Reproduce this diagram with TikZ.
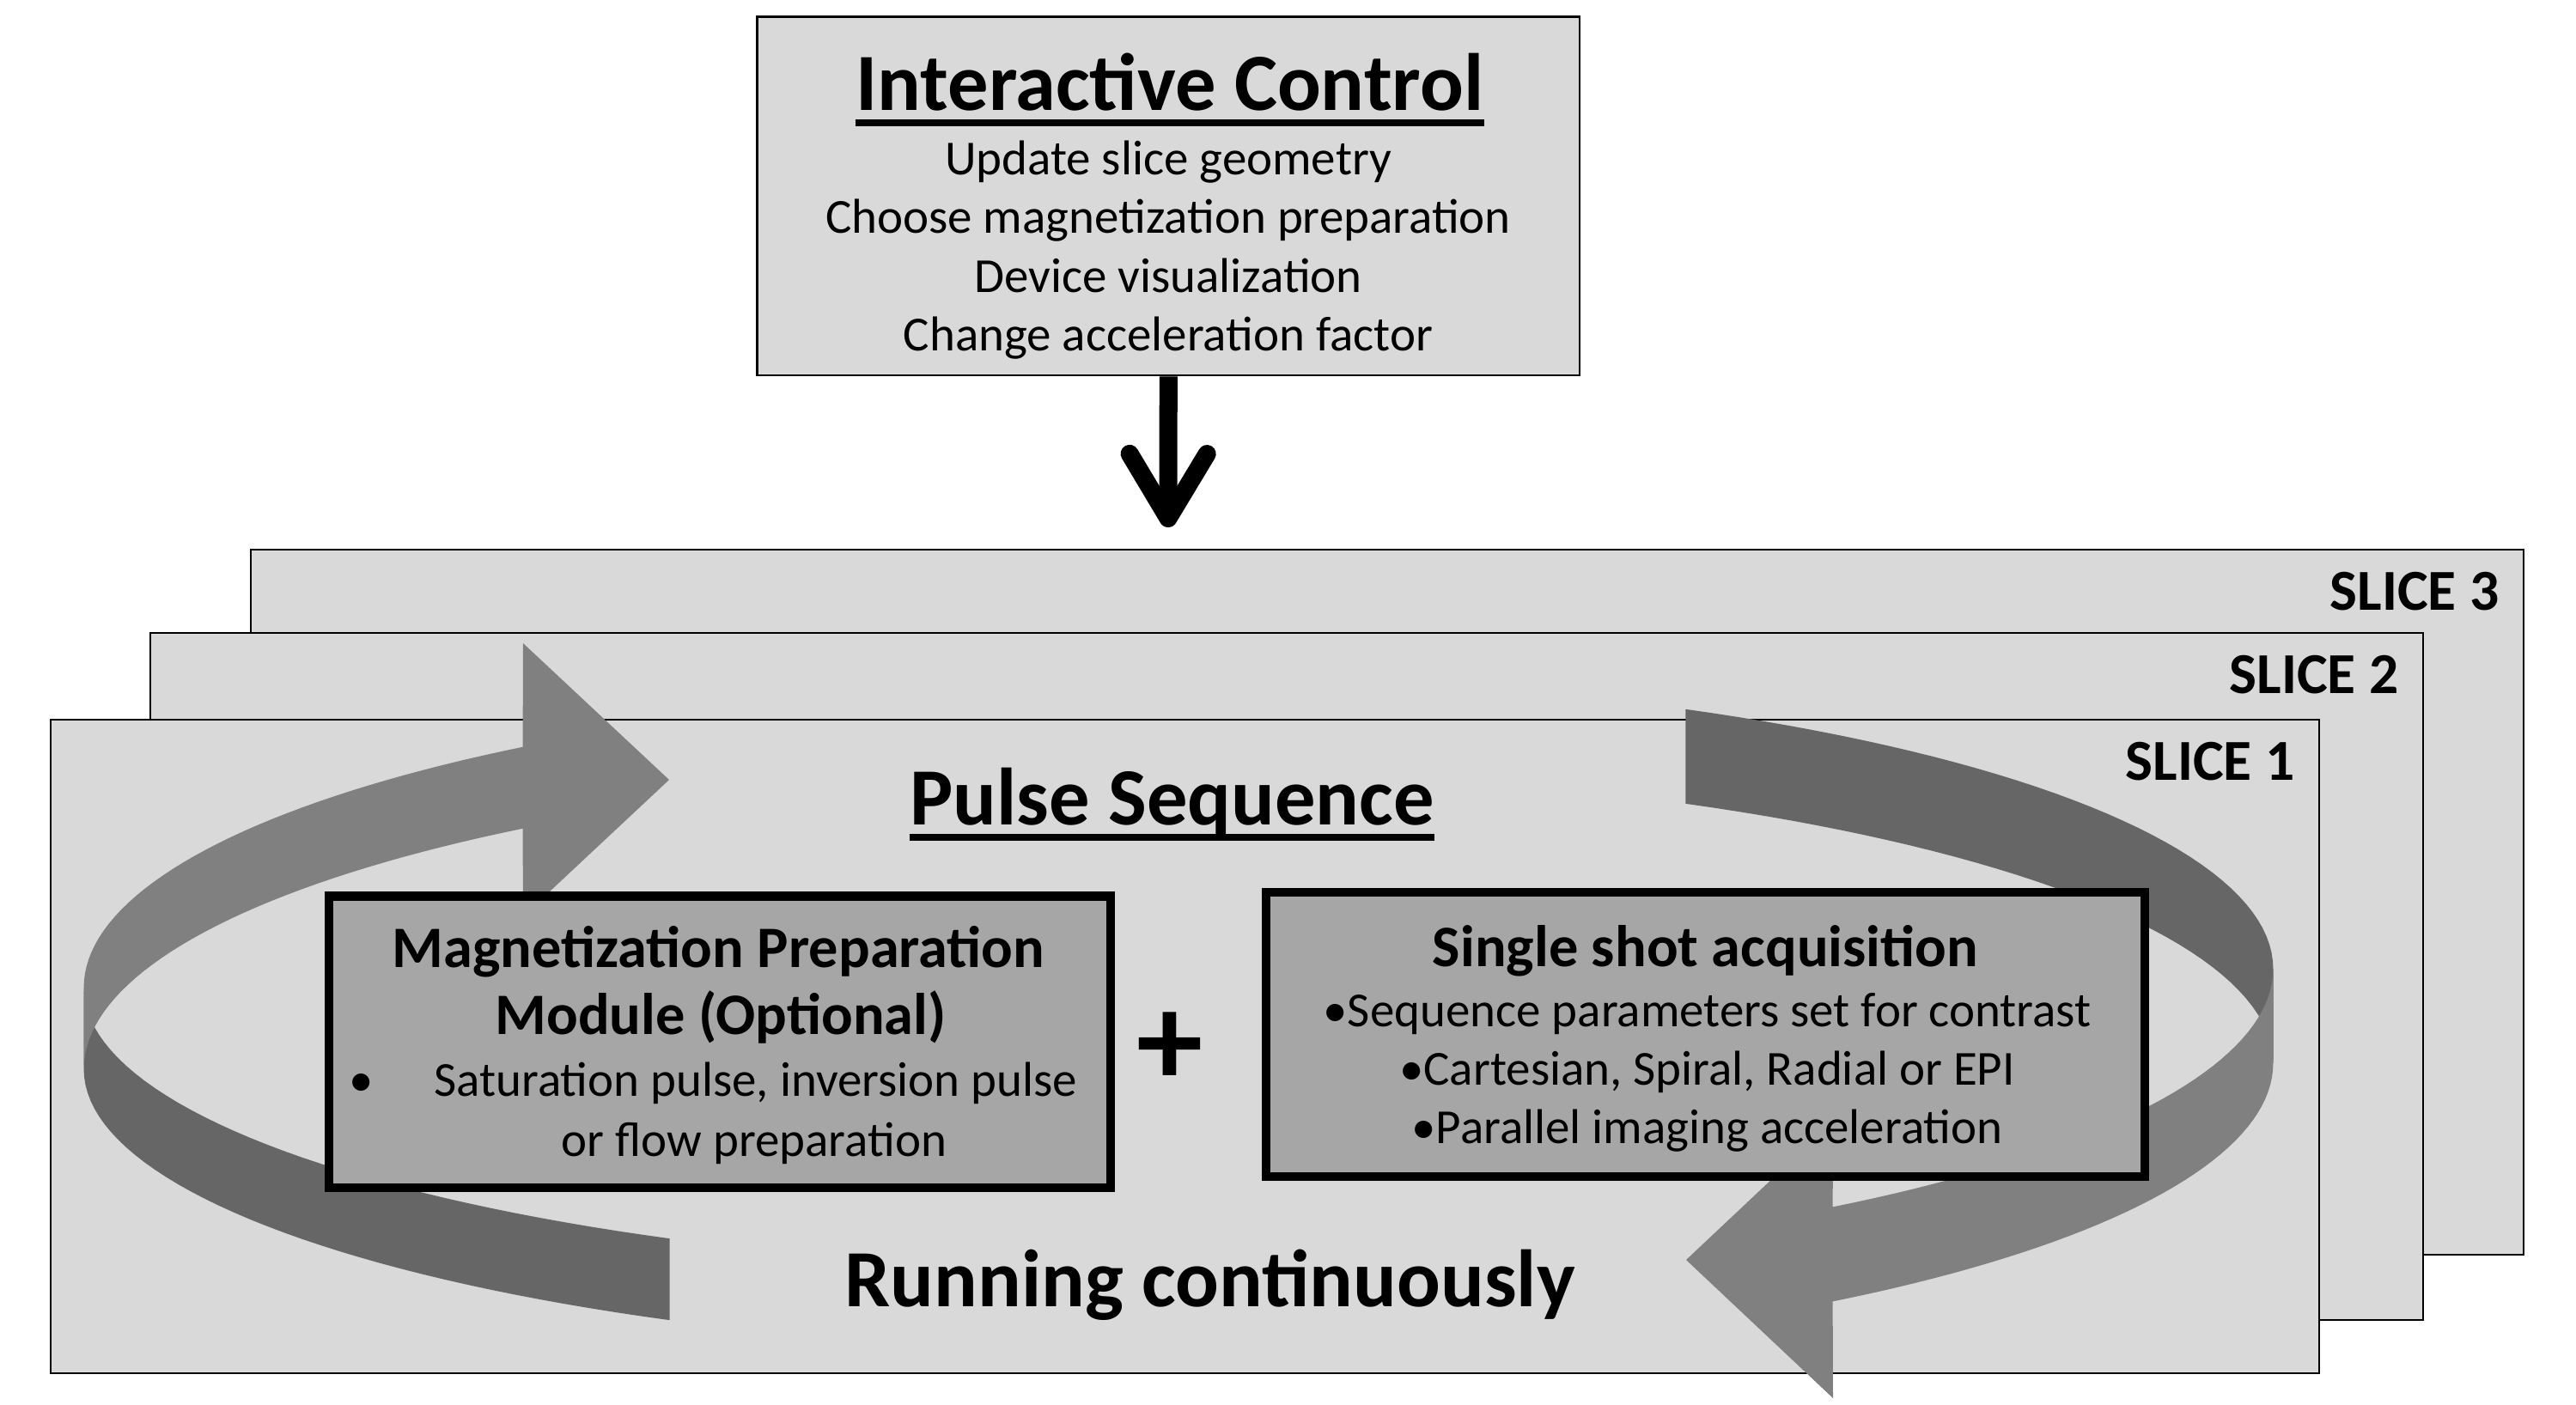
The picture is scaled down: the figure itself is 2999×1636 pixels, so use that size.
\documentclass[tikz,border=0pt]{standalone}
\usepackage{fontspec}
\setmainfont{Carlito}
\usetikzlibrary{arrows.meta}
\definecolor{slicegray}{HTML}{D9D9D9}
\definecolor{boxgray}{HTML}{A6A6A6}
\definecolor{looplight}{HTML}{808080}
\definecolor{loopdark}{HTML}{666666}
\newcommand{\fbig}{\fontsize{26.9}{30}\selectfont\bfseries}
\newcommand{\fmid}{\fontsize{19.45}{22}\selectfont\bfseries}
\newcommand{\fbody}{\fontsize{16.2}{19}\selectfont}
\tikzset{
  slicebox/.style={draw=black, line width=0.7pt, fill=slicegray},
  slicelabel/.style={inner sep=0pt, anchor=base east, font=\fontsize{19.2}{22}\selectfont\bfseries},
  modbox/.style={draw=black, line width=2.9pt, fill=boxgray, inner sep=0pt},
  ctlbox/.style={draw=black, line width=0.7pt, fill=slicegray, inner sep=0pt},
  txt/.style={inner sep=0pt, anchor=base},
  underbar/.style={line width=0.08cm},
  ctlarrow/.style={line width=0.21cm, -{Straight Barb[length=0.75cm, width=0.9cm, round]}}
}

\begin{document}
\begin{tikzpicture}[x=0.01cm, y=-0.01cm]
\useasboundingbox (0,0) rectangle (2999,1636);

% stacked slices
\foreach \n/\xa/\ya/\xb/\yb in {3/292/640/2938/1461, 2/175/737/2821/1537, 1/59/838/2700/1599} {
  \draw[slicebox] (\xa,\ya) rectangle (\xb,\yb);
  \node[slicelabel] (slice\n) at (\xb-28,\ya+70) {SLICE \n};
}

% left loop arrow
\fill[loopdark] plot[variable=\t, domain=180:242.3, samples=40] ({1372+1274.5*cos(\t)}, {1150-330*sin(\t)})
  -- plot[variable=\t, domain=242.3:180, samples=40] ({1372+1274.5*cos(\t)}, {1245-330*sin(\t)}) -- cycle;
\fill[looplight] plot[variable=\t, domain=126.8:180, samples=40] ({1372+1274.5*cos(\t)}, {1150-350*sin(\t)})
  -- plot[variable=\t, domain=180:126.8, samples=40] ({1372+1274.5*cos(\t)}, {1245-350*sin(\t)})
  -- (609,1067) -- (779,908) -- (609,749) -- cycle;

% right loop arrow
\fill[loopdark] plot[variable=\t, domain=62.4:0, samples=40] ({1372+1274.5*cos(\t)}, {1128-341*sin(\t)})
  -- plot[variable=\t, domain=0:62.4, samples=40] ({1372+1274.5*cos(\t)}, {1238-341*sin(\t)}) -- cycle;
\fill[looplight] plot[variable=\t, domain=0:-53.3, samples=40] ({1372+1274.5*cos(\t)}, {1128-346*sin(\t)})
  -- (2134,1306) -- (1963,1467) -- (2134,1628)
  -- plot[variable=\t, domain=-53.3:0, samples=40] ({1372+1274.5*cos(\t)}, {1238-346*sin(\t)}) -- cycle;

% modules
\node[modbox, minimum width=9.095cm, minimum height=3.394cm] (prep) at (837.8,1213.3) {};
\node[modbox, minimum width=10.224cm, minimum height=3.31cm] (shot) at (1985.8,1204.5) {};

\node[txt, font=\fbig] (pulse) at (1364.5,960) {Pulse Sequence};
\draw[underbar] ([yshift=-0.145cm]pulse.base west) -- ([yshift=-0.145cm]pulse.base east);
\node[txt, font=\fmid] (preptitle) at (836.5,1126) {Magnetization Preparation};
\node[txt, font=\fmid] (prepsub) at (839,1204.6) {Module (Optional)};
\node[txt, font=\fbody] (prepitem) at (880,1276) {\llap{•\hspace{0.71cm}}Saturation pulse, inversion pulse};
\node[txt, font=\fbody] (prepmore) at (878,1346) {or flow preparation};
\node[txt, anchor=center, font=\fontsize{44}{48}\selectfont\bfseries] (plus) at (1362,1222) {+};
\node[txt, font=\fmid] (shottitle) at (1985.5,1125) {Single shot acquisition};
\foreach \entry [count=\i] in {{•Sequence parameters set for contrast}, {•Cartesian, Spiral, Radial or EPI}, {•Parallel imaging acceleration}}
  \node[txt, font=\fbody] (shotitem\i) at (1987.5,1195+68.4*\i-68.4) {\entry};
\node[txt, font=\fbig] (running) at (1408.5,1521.7) {Running continuously};

% interactive control
\node[ctlbox, minimum width=9.57cm, minimum height=4.175cm] (ctl) at (1360.3,228.2) {};
\node[txt, font=\fbig] (ctltitle) at (1362,128.5) {Interactive Control};
\draw[underbar] ([yshift=-0.145cm]ctltitle.base west) -- ([yshift=-0.145cm]ctltitle.base east);
\foreach \entry [count=\i] in {Update slice geometry, Choose magnetization preparation, Device visualization, Change acceleration factor}
  \node[txt, font=\fbody] (ctlitem\i) at (1360,203+68.5*\i-68.5) {\entry};
\coordinate (ctltip) at (1360,614);
\draw[ctlarrow] (ctl.south) -- (ctltip);
\end{tikzpicture}
\end{document}
